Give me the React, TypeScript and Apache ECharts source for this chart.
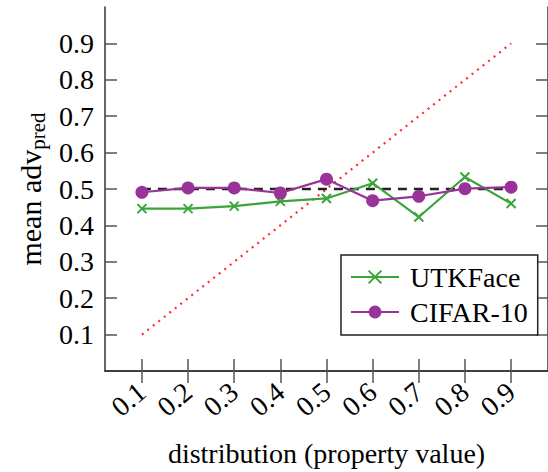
import React, { useEffect, useRef } from "react";
import * as echarts from "echarts";

const xValues = [0.1, 0.2, 0.3, 0.4, 0.5, 0.6, 0.7, 0.8, 0.9];
const utkface = [0.446, 0.446, 0.453, 0.466, 0.474, 0.516, 0.423, 0.533, 0.46];
const cifar10 = [0.491, 0.503, 0.503, 0.489, 0.527, 0.468, 0.48, 0.501, 0.505];
const baselineX = [0.1, 0.9];
const baselineY = [0.5, 0.5];
const idealX = [0.1, 0.9];
const idealY = [0.1, 0.9];
const xTicks = [0.1, 0.2, 0.3, 0.4, 0.5, 0.6, 0.7, 0.8, 0.9];
const yTicks = [0.1, 0.2, 0.3, 0.4, 0.5, 0.6, 0.7, 0.8, 0.9];

const FONT = "Liberation Serif";
const GREEN = "#3ca53a";
const PURPLE = "#993399";
const AXIS = "#333";

const serif = (size: number, extra: Record<string, unknown> = {}) => ({
  fontSize: size,
  fontFamily: FONT,
  color: "#000",
  ...extra,
});

export default function App() {
  const ref = useRef<HTMLDivElement>(null);
  useEffect(() => {
    if (!ref.current) return;
    const chart = echarts.init(ref.current, null, { renderer: "svg" });
    const zip = (xs: number[], ys: number[]) => xs.map((x, i) => [x, ys[i]]);
    const tickStyle = { show: true, inside: true, length: 12, lineStyle: { color: "#555", width: 1.5 } };
    chart.setOption({
      animation: false,
      textStyle: { fontFamily: FONT },
      grid: { left: 105, top: 7, width: 444, height: 365 },
      xAxis: [
        {
          type: "value",
          min: 0.02,
          max: 0.98,
          position: "bottom",
          splitLine: { show: false },
          axisLine: { show: true, lineStyle: { color: AXIS, width: 1.5 } },
          axisTick: { ...tickStyle, customValues: xTicks },
          axisLabel: {
            customValues: xTicks,
            rotate: 40,
            margin: 17,
            ...serif(28),
            formatter: (v: number) => v.toFixed(1),
          },
          name: "distribution (property value)",
          nameLocation: "middle",
          nameGap: 68,
          nameTextStyle: serif(28),
        },
        {
          type: "value",
          min: 0.02,
          max: 0.98,
          position: "top",
          splitLine: { show: false },
          axisLine: { show: true, lineStyle: { color: AXIS, width: 1.5 } },
          axisTick: { ...tickStyle, customValues: xTicks },
          axisLabel: { show: false },
        },
      ],
      yAxis: [
        {
          type: "value",
          min: 0,
          max: 1,
          position: "left",
          splitLine: { show: false },
          axisLine: { show: true, lineStyle: { color: AXIS, width: 1.5 } },
          axisTick: { ...tickStyle, customValues: yTicks },
          axisLabel: {
            customValues: yTicks,
            margin: 11,
            ...serif(28),
            formatter: (v: number) => v.toFixed(1),
          },
          name: "{a|mean adv}{b|pred}",
          nameLocation: "middle",
          nameRotate: 90,
          nameGap: 57,
          nameTextStyle: {
            fontFamily: FONT,
            rich: {
              a: serif(30, { lineHeight: 36, verticalAlign: "middle" }),
              b: serif(21, { lineHeight: 21, verticalAlign: "bottom" }),
            },
          },
        },
        {
          type: "value",
          min: 0,
          max: 1,
          position: "right",
          splitLine: { show: false },
          axisLine: { show: true, lineStyle: { color: AXIS, width: 1.5 } },
          axisTick: { ...tickStyle, customValues: yTicks },
          axisLabel: { show: false },
        },
      ],
      legend: {
        orient: "vertical",
        left: 341,
        top: 255,
        padding: [7, 10, 8, 9],
        itemGap: 5,
        itemWidth: 48,
        itemHeight: 16,
        backgroundColor: "#fff",
        borderColor: "#222",
        borderWidth: 1.5,
        borderRadius: 0,
        textStyle: { ...serif(28), lineHeight: 30, padding: [0, 0, 0, 6] },
        data: ["UTKFace", "CIFAR-10"],
      },
      series: [
        {
          type: "line",
          data: zip(idealX, idealY),
          symbol: "none",
          lineStyle: { color: "#ff2a2a", width: 2.2, type: [2, 5] },
          silent: true,
          z: 1,
        },
        {
          type: "line",
          data: zip(baselineX, baselineY),
          symbol: "none",
          lineStyle: { color: "#222", width: 2.5, type: [9, 7] },
          silent: true,
          z: 2,
        },
        {
          name: "UTKFace",
          type: "line",
          data: zip(xValues, utkface),
          symbol: "path://M0,0L10,10M10,0L0,10",
          symbolSize: 9,
          color: GREEN,
          lineStyle: { color: GREEN, width: 2.2 },
          itemStyle: { color: GREEN, borderColor: GREEN, borderWidth: 2 },
          z: 3,
        },
        {
          name: "CIFAR-10",
          type: "line",
          data: zip(xValues, cifar10),
          symbol: "circle",
          symbolSize: 13,
          color: PURPLE,
          lineStyle: { color: PURPLE, width: 2.2 },
          itemStyle: { color: PURPLE },
          z: 4,
        },
      ],
    });
    return () => chart.dispose();
  }, []);
  return (
    <div
      ref={ref}
      style={{ position: "fixed", left: 0, top: 0, width: 548, height: 472, background: "#fff" }}
    />
  );
}
